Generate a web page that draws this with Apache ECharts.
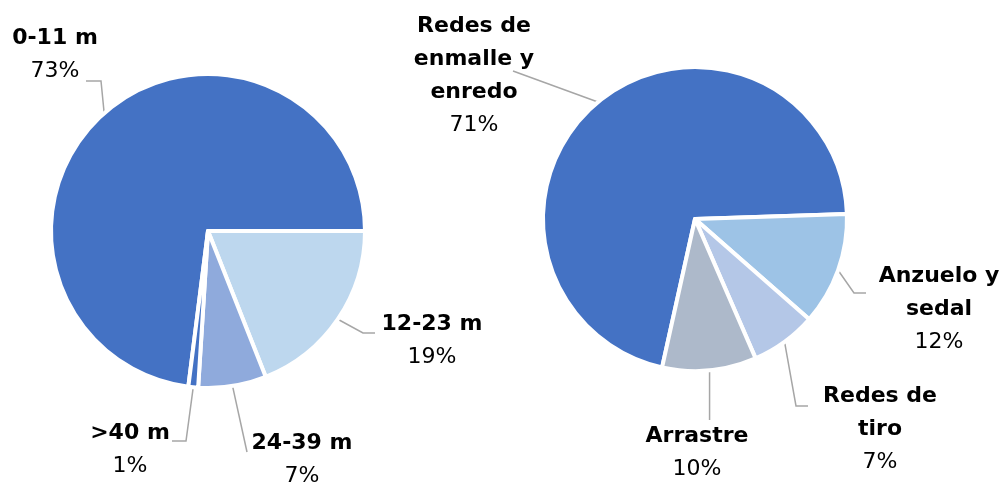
<!DOCTYPE html>
<html>
<head>
<meta charset="utf-8">
<script src="https://cdn.jsdelivr.net/npm/echarts@6/dist/echarts.min.js"></script>
<style>
  html, body { margin: 0; padding: 0; background: #fff; }
  #chart { width: 1000px; height: 484px; }
</style>
</head>
<body>
<div id="chart"></div>
<script>
// eslora (longitud de buque)
const lengthNames = ['0-11 m', '12-23 m', '24-39 m', '>40 m']
const lengthShares = [73, 19, 7, 1]
const lengthColors = ['#4472C4', '#BDD7EE', '#8FAADC', '#4472C4']

// arte de pesca
const gearNames = ['Redes de\nenmalle y\nenredo', 'Anzuelo y\nsedal', 'Redes de\ntiro', 'Arrastre']
const gearShares = [71, 12, 7, 10]
const gearColors = ['#4472C4', '#9DC3E6', '#B4C7E7', '#ADB9CA']

// centro de cada etiqueta (px)
const lengthLabelPos = [[55, 55], [432, 341], [302, 460], [130, 450]]
const gearLabelPos = [[474, 76], [939, 309], [880, 429], [697, 453]]
// codo y final de las lineas guia (px); null = vertical desde el sector
const lengthLeaders = [[[101, 81], [86, 81]], [[363, 333], [375, 333]], [[247, 452], [247, 452]], [[186, 441], [172, 441]]]
const gearLeaders = [[[513, 71], [513, 71]], [[854, 293], [866, 293]], [[796, 406], [808, 406]], [[null, 420], [null, 420]]]

const font = '"DejaVu Sans", sans-serif'

function toData(names, values, colors) {
  return names.map((n, i) => ({ name: n, value: values[i], itemStyle: { color: colors[i] } }))
}

function pieSeries(names, values, colors, center, radius, startAngle, labelPos, leaders) {
  return {
    type: 'pie',
    center: center,
    radius: radius,
    startAngle: startAngle,
    clockwise: true,
    silent: true,
    animation: false,
    itemStyle: { borderColor: '#fff', borderWidth: 4 },
    label: {
      show: true,
      position: 'outside',
      align: 'center',
      overflow: 'none',
      formatter: p => p.name.split('\n').map(s => '{b|' + s + '}').join('\n') + '\n{p|' + p.value + '%}',
      rich: {
        b: { fontFamily: font, fontWeight: 'bold', fontSize: 22, color: '#000', lineHeight: 33, align: 'center' },
        p: { fontFamily: font, fontSize: 22, color: '#000', lineHeight: 33, align: 'center' },
      },
    },
    labelLine: {
      show: true,
      length: 12,
      length2: 12,
      smooth: false,
      lineStyle: { color: '#A6A6A6', width: 1.5 },
    },
    labelLayout: p => {
      const lead = leaders[p.dataIndex]
      const start = p.labelLinePoints ? p.labelLinePoints[0] : lead[0]
      const fix = pt => [pt[0] == null ? start[0] : pt[0], pt[1]]
      return {
        x: labelPos[p.dataIndex][0],
        y: labelPos[p.dataIndex][1],
        align: 'center',
        verticalAlign: 'middle',
        labelLinePoints: [start, fix(lead[0]), fix(lead[1])],
      }
    },
    data: toData(names, values, colors),
  }
}

const myEcharts = echarts.init(document.getElementById('chart'), null, { renderer: 'canvas' })
myEcharts.setOption({
  backgroundColor: '#fff',
  series: [
    pieSeries(lengthNames, lengthShares, lengthColors, [208, 231], 157, 262.8, lengthLabelPos, lengthLeaders),
    pieSeries(gearNames, gearShares, gearColors, [695, 219], 152, 257.5, gearLabelPos, gearLeaders),
  ],
})
</script>
</body>
</html>
